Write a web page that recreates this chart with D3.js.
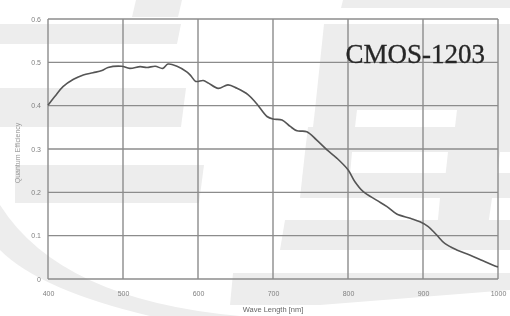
<!DOCTYPE html>
<html>
<head>
<meta charset="utf-8">
<script src="https://cdn.jsdelivr.net/npm/d3@7"></script>
<style>
html,body{margin:0;padding:0;background:#fff;}
svg{display:block;}
</style>
</head>
<body>
<svg id="chart" width="510" height="316"></svg>
<script>
// ---- data ----
const wavelengths = [400,409,420,434,447,460,472,480,498,509,523,532,543,553,560,572,585,590,597,607,614,627,640,652,667,678,692,700,712,723,732,745,758,772,785,800,809,820,838,852,865,883,896,907,918,929,945,963,980,996,1000];
const efficiency  = [0.401,0.421,0.444,0.461,0.471,0.476,0.481,0.488,0.491,0.486,0.490,0.488,0.491,0.486,0.496,0.491,0.478,0.470,0.456,0.458,0.452,0.440,0.448,0.440,0.425,0.405,0.375,0.369,0.367,0.352,0.342,0.340,0.321,0.298,0.279,0.252,0.225,0.202,0.182,0.167,0.150,0.140,0.132,0.121,0.102,0.082,0.067,0.055,0.042,0.030,0.028];
const xTicks = [400,500,600,700,800,900,1000];
const yTicks = [0,0.1,0.2,0.3,0.4,0.5,0.6];
const yTickLabels = ["0","0.1","0.2","0.3","0.4","0.5","0.6"];
const xTitle = "Wave Length [nm]";
const yTitle = "Quantum Efficiency";
const chartLabel = "CMOS-1203";

const svg = d3.select("#chart");
const W = 510, H = 316;
const m = {left:48, top:19, right:12, bottom:37};
const iw = W - m.left - m.right, ih = H - m.top - m.bottom;

const defs = svg.append("defs");
defs.append("filter").attr("id","soft").append("feGaussianBlur").attr("stdDeviation",0.45);
defs.append("filter").attr("id","softer").append("feGaussianBlur").attr("stdDeviation",0.55);

// ---- decorative watermark (light grey shapes) ----
const wm = svg.append("g").attr("fill","#ededed");
const shapes = [
  [[343,0],[510,0],[510,8],[341,8]],
  [[0,24],[181,24],[177,44],[0,44]],
  [[136,0],[182,0],[178,17],[132,17]],
  [[0,88],[186,88],[181,127],[0,127]],
  [[15,165],[204,165],[199,203],[15,203]],
  [[324,24],[510,24],[510,110],[315,110]],
  [[315,110],[357,110],[355,127],[313,127]],
  [[457,110],[510,110],[510,127],[455,127]],
  [[308,127],[510,127],[510,152],[305,152]],
  [[305,152],[352,152],[348,198],[300,198]],
  [[448,152],[500,152],[494,198],[443,198]],
  [[303,173],[510,173],[510,198],[301,198]],
  [[285,220],[510,220],[510,250],[280,250]],
  [[440,198],[492,198],[486,240],[436,240]],
  [[233,273],[510,273],[510,290],[320,305],[230,305]]
];
shapes.forEach(p => wm.append("path").attr("d","M"+p.map(d=>d.join(",")).join("L")+"Z"));
wm.append("path").attr("d","M0,205 Q60,300 240,316 L150,316 Q40,290 0,250 Z");

// ---- scales ----
const x = d3.scaleLinear().domain([400,1000]).range([m.left, m.left+iw]);
const y = d3.scaleLinear().domain([0,0.6]).range([m.top+ih, m.top]);

// ---- grid ----
const grid = svg.append("g").attr("stroke","#8c8c8c").attr("stroke-width",1.4).attr("filter","url(#soft)");
grid.selectAll(".vx").data(xTicks).join("line")
  .attr("x1",d=>x(d)).attr("x2",d=>x(d)).attr("y1",m.top).attr("y2",m.top+ih);
grid.selectAll(".hy").data(yTicks).join("line")
  .attr("y1",d=>y(d)).attr("y2",d=>y(d)).attr("x1",m.left).attr("x2",m.left+iw);

// ---- axes labels via d3 axes ----
const xAxis = d3.axisBottom(x).tickValues(xTicks).tickSize(0).tickPadding(12).tickFormat(d3.format("d"));
const gx = svg.append("g").attr("transform",`translate(0,${m.top+ih})`).call(xAxis);
gx.select(".domain").remove();
gx.selectAll("text").attr("font-family","Liberation Sans, Arial, sans-serif").attr("font-size",7).attr("fill","#808080").attr("filter","url(#soft)");

const yAxis = d3.axisLeft(y).tickValues(yTicks).tickSize(0).tickPadding(7).tickFormat((d,i)=>yTickLabels[i]);
const gy = svg.append("g").attr("transform",`translate(${m.left},0)`).call(yAxis);
gy.select(".domain").remove();
gy.selectAll("text").attr("font-family","Liberation Sans, Arial, sans-serif").attr("font-size",7).attr("fill","#808080").attr("filter","url(#soft)");

// ---- curve ----
const line = d3.line().x((d,i)=>x(wavelengths[i])).y(d=>y(d)).curve(d3.curveCatmullRom.alpha(0.5));
svg.append("path").datum(efficiency)
  .attr("d",line).attr("fill","none").attr("stroke","#555").attr("stroke-width",1.6)
  .attr("stroke-linejoin","round").attr("filter","url(#soft)");

// ---- titles ----
svg.append("text").attr("x",273).attr("y",312).attr("text-anchor","middle")
  .attr("font-family","Liberation Sans, Arial, sans-serif").attr("font-size",7.5).attr("fill","#666")
  .attr("filter","url(#soft)").text(xTitle);
svg.append("text").attr("transform","translate(20,153) rotate(-90)").attr("text-anchor","middle")
  .attr("font-family","Liberation Sans, Arial, sans-serif").attr("font-size",7).attr("fill","#999")
  .attr("filter","url(#soft)").text(yTitle);

svg.append("text").attr("x",485).attr("y",63).attr("text-anchor","end")
  .attr("font-family","Liberation Serif, Times New Roman, serif").attr("font-size",27).attr("fill","#262626")
  .attr("stroke","#262626").attr("stroke-width",0.3)
  .attr("filter","url(#softer)").text(chartLabel);
</script>
</body>
</html>
